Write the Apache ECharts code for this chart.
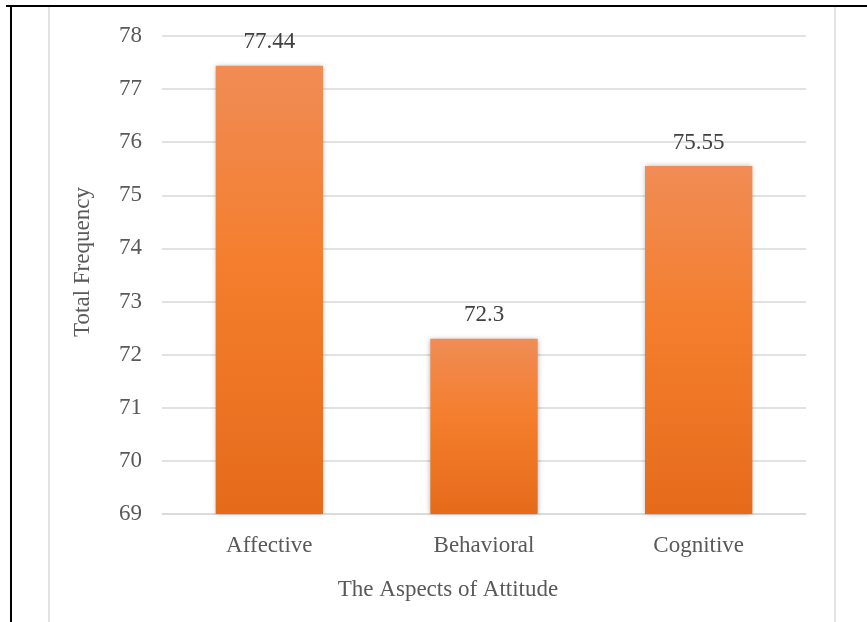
<!DOCTYPE html>
<html>
<head>
<meta charset="utf-8">
<script src="https://cdn.jsdelivr.net/npm/echarts@6/dist/echarts.min.js"></script>
<style>
  html, body { margin: 0; padding: 0; background: #fff; }
  #chart { width: 867px; height: 622px; }
</style>
</head>
<body>
<div id="chart"></div>
<script>
// Attitude aspects and their total frequencies
const categories = ['Affective', 'Behavioral', 'Cognitive'];
const totals = [77.44, 72.3, 75.55];
const yTicks = [69, 70, 71, 72, 73, 74, 75, 76, 77, 78];

const FONT = '"Liberation Serif", "Times New Roman", serif';
const TEXT = '#595959';
const SIZE = 23;

const barFill = new echarts.graphic.LinearGradient(0, 0, 0, 1, [
  { offset: 0, color: '#F08C55' },
  { offset: 0.45, color: '#F47E2D' },
  { offset: 1, color: '#E56B1B' }
]);

const chart = echarts.init(document.getElementById('chart'), null, { renderer: 'canvas' });
chart.setOption({
  animation: false,
  backgroundColor: '#fff',
  grid: { left: 162, right: 61, top: 36, bottom: 108 },
  xAxis: {
    type: 'category',
    data: categories,
    name: 'The Aspects of Attitude',
    nameLocation: 'middle',
    nameGap: 64,
    nameTextStyle: { fontFamily: FONT, fontSize: SIZE, color: TEXT, padding: [0, 72, 0, 0] },
    axisLine: { lineStyle: { color: '#D9D9D9', width: 1.5 } },
    axisTick: { show: false },
    axisLabel: { fontFamily: FONT, fontSize: SIZE, color: TEXT, margin: 20 }
  },
  yAxis: {
    type: 'value',
    min: yTicks[0],
    max: yTicks[yTicks.length - 1],
    interval: 1,
    name: 'Total Frequency',
    nameLocation: 'middle',
    nameGap: 68,
    nameRotate: 90,
    nameTextStyle: { fontFamily: FONT, fontSize: SIZE, color: TEXT, padding: [0, 0, 0, 26] },
    axisLine: { show: false },
    axisTick: { show: false },
    splitLine: { lineStyle: { color: '#D9D9D9', width: 1.5 } },
    axisLabel: { fontFamily: FONT, fontSize: SIZE, color: TEXT, margin: 20 }
  },
  series: [{
    type: 'bar',
    data: totals,
    barWidth: '50%',
    itemStyle: {
      color: barFill,
      shadowBlur: 5,
      shadowColor: 'rgba(0,0,0,0.3)'
    },
    label: {
      show: true,
      position: 'top',
      distance: 12,
      fontFamily: FONT,
      fontSize: SIZE,
      color: '#404040',
      formatter: p => String(p.value)
    }
  }],
  graphic: [
    // page frame around the figure
    { type: 'line', shape: { x1: 6, y1: 6, x2: 867, y2: 6 }, style: { stroke: '#000', lineWidth: 2 } },
    { type: 'line', shape: { x1: 11, y1: 6, x2: 11, y2: 622 }, style: { stroke: '#000', lineWidth: 2 } },
    // chart area border
    { type: 'line', shape: { x1: 49, y1: 7, x2: 49, y2: 622 }, style: { stroke: '#D9D9D9', lineWidth: 1.5 } },
    { type: 'line', shape: { x1: 835, y1: 7, x2: 835, y2: 622 }, style: { stroke: '#D9D9D9', lineWidth: 1.5 } }
  ]
});
</script>
</body>
</html>
